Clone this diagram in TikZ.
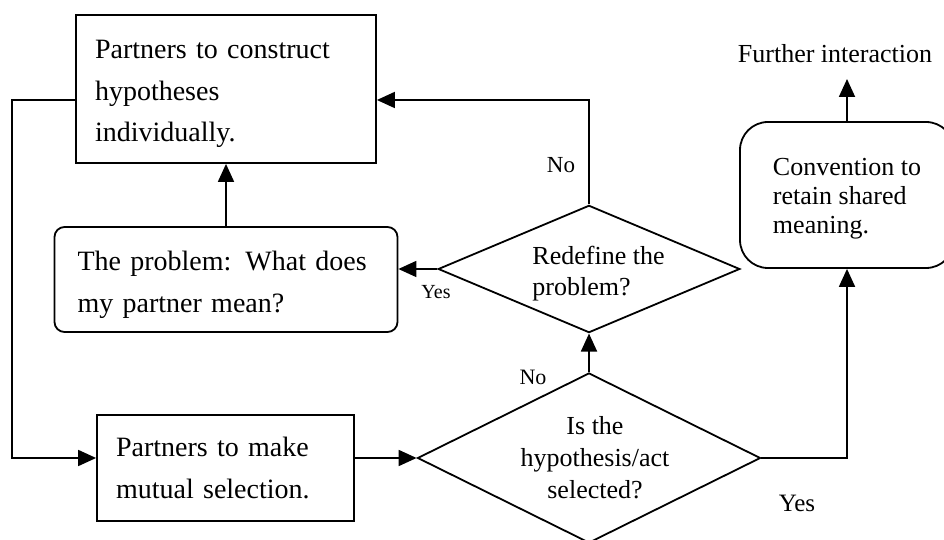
\documentclass[tikz,border=0pt]{standalone}
\usepackage{fontspec}
\setmainfont{Liberation Serif}
\usetikzlibrary{arrows.meta,shapes.geometric}
\begin{document}
\begin{tikzpicture}[x=1pt,y=1pt,line width=1.8pt,
    arr/.style={-{Triangle[length=18pt,width=16pt]}},
    box/.style={draw,align=left,inner ysep=0pt,font=\fontsize{28}{41.5}\selectfont},
    lowered/.style={execute at begin node={\rule{0pt}{#1}}},
    decision/.style={draw,diamond,inner sep=0pt,font=\fontsize{26}{32}\selectfont},
    lbl/.style={inner sep=0pt}]
\useasboundingbox (0,0) rectangle (944,540);
\node[box,lowered=29pt,text width=262pt,inner xsep=19pt,minimum height=148pt] (ind) at (226,451) {Partners to construct\\hypotheses\\individually.};
\node[box,lowered=30pt,rounded corners=10pt,text width=297pt,inner xsep=23pt,minimum height=105pt] (prob) at (226,260.5) {The problem: What does\\my partner mean?};
\node[box,text width=219pt,inner xsep=19pt,minimum height=106pt] (mut) at (225.5,72) {Partners to make\\mutual selection.};
\node[decision,aspect=2.02,align=center,minimum width=343pt,minimum height=170pt] (sel) at (589,82) {\hspace*{12pt}Is the\\\hspace*{12pt}hypothesis/act\\\hspace*{12pt}selected?};
\node[decision,aspect=2.37,align=left,minimum width=298pt,minimum height=126pt,font=\fontsize{26}{31}\selectfont] (red) at (589,271) {\rule{0pt}{27pt}\hspace*{19pt}Redefine the\\\hspace*{19pt}problem?};
\node[draw,rounded corners=28pt,align=left,minimum width=214pt,minimum height=146pt,font=\fontsize{26}{29}\selectfont] (conv) at (847,345) {\rule{0pt}{25pt}Convention to\\retain shared\\meaning.};
\node[lbl,anchor=base west,font=\fontsize{26}{29}\selectfont] (fur) at (737,477) {Further interaction};
\coordinate (out) at (847,461);
\coordinate (lc1) at (12,440);
\coordinate (lc2) at (12,82);
\node[lbl,font=\fontsize{23}{23}\selectfont] (no1) at (561,375) {No};
\node[lbl,font=\fontsize{20}{20}\selectfont] (yes1) at (436,248) {Yes};
\node[lbl,font=\fontsize{22}{22}\selectfont] (no2) at (533,163) {No};
\node[lbl,font=\fontsize{25}{25}\selectfont] (yes2) at (797,37) {Yes};
\draw[arr] (red.north) |- (ind.east |- lc1);
\draw[arr] (ind.west |- lc1) -- (lc1) -- (lc2) -- (mut.west |- lc2);
\draw[arr] (prob.north) -- (ind.south);
\draw[arr] (red.west) -- (prob.east |- red.west);
\draw[arr] (mut.east |- sel.west) -- (sel.west);
\draw[arr] (sel.north) -- (red.south);
\draw[arr] (sel.east) -| (conv.south);
\draw[arr] (conv.north) -- (out);
\end{tikzpicture}
\end{document}
